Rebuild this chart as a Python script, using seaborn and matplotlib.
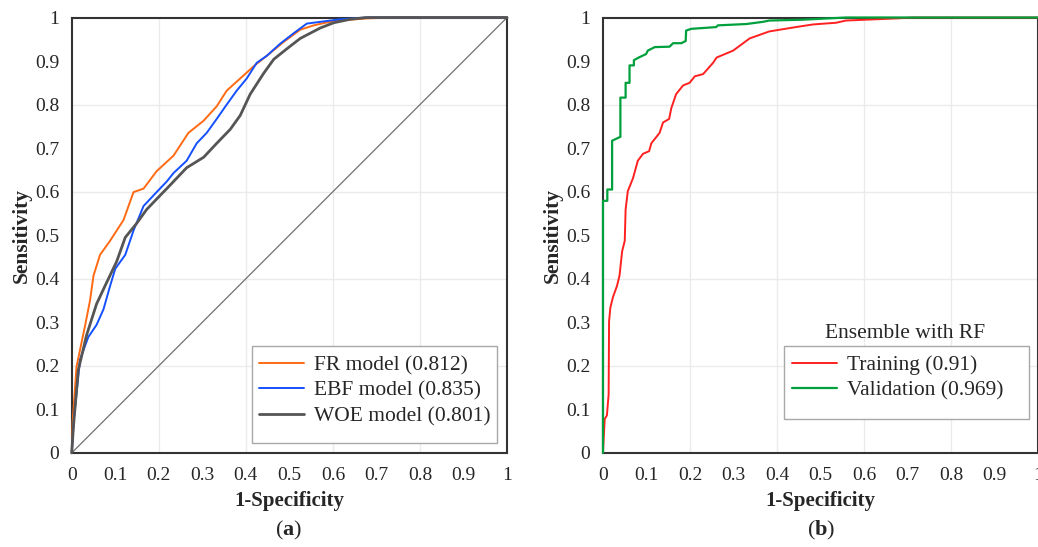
import numpy as np
import pandas as pd
import matplotlib
matplotlib.use("Agg")
import matplotlib.pyplot as plt
from matplotlib.patches import Rectangle
import seaborn as sns

# ROC curve points (x = 1-specificity, y = sensitivity)
fr_x = [0, 0.002, 0.011, 0.031, 0.042, 0.05, 0.065, 0.088, 0.119, 0.142, 0.165, 0.195, 0.234, 0.268,
        0.303, 0.333, 0.356, 0.387, 0.418, 0.448, 0.487, 0.525, 0.556, 0.601, 0.678, 0.755, 1.0]
fr_y = [0, 0.070, 0.198, 0.294, 0.350, 0.407, 0.455, 0.487, 0.535, 0.599, 0.607, 0.647, 0.683, 0.735,
        0.763, 0.796, 0.832, 0.860, 0.888, 0.912, 0.944, 0.972, 0.982, 0.992, 0.998, 1.0, 1.0]

ebf_x = [0, 0.005, 0.019, 0.038, 0.057, 0.073, 0.088, 0.1, 0.123, 0.142, 0.165, 0.195, 0.218, 0.234,
         0.264, 0.287, 0.310, 0.333, 0.356, 0.379, 0.402, 0.425, 0.448, 0.479, 0.51, 0.540, 0.586,
         0.617, 0.678, 1.0]
ebf_y = [0, 0.078, 0.214, 0.266, 0.294, 0.330, 0.383, 0.423, 0.455, 0.511, 0.567, 0.599, 0.623, 0.643,
         0.671, 0.711, 0.735, 0.767, 0.800, 0.832, 0.860, 0.896, 0.912, 0.940, 0.964, 0.986, 0.992,
         0.996, 1.0, 1.0]

woe_x = [0, 0.004, 0.015, 0.034, 0.057, 0.080, 0.103, 0.123, 0.149, 0.172, 0.195, 0.226, 0.264, 0.303,
         0.333, 0.364, 0.387, 0.410, 0.441, 0.464, 0.494, 0.525, 0.571, 0.602, 0.640, 0.678, 1.0]
woe_y = [0, 0.062, 0.190, 0.270, 0.342, 0.391, 0.439, 0.495, 0.527, 0.559, 0.583, 0.615, 0.655, 0.679,
         0.711, 0.743, 0.775, 0.824, 0.872, 0.904, 0.928, 0.952, 0.976, 0.988, 0.996, 1.0, 1.0]

val_x = [0, 0, 0.01, 0.01, 0.021, 0.021, 0.040, 0.040, 0.052, 0.052, 0.061, 0.061, 0.071, 0.071, 0.084,
         0.099, 0.103, 0.111, 0.119, 0.153, 0.161, 0.180, 0.190, 0.191, 0.203, 0.260, 0.264, 0.329,
         0.367, 0.382, 0.459, 0.558, 1.0]
val_y = [0, 0.579, 0.579, 0.605, 0.605, 0.717, 0.726, 0.816, 0.816, 0.850, 0.850, 0.890, 0.890, 0.902,
         0.909, 0.916, 0.924, 0.928, 0.932, 0.933, 0.941, 0.941, 0.946, 0.970, 0.974, 0.978, 0.982,
         0.985, 0.990, 0.993, 0.995, 1.0, 1.0]

train_x = [0, 0.004, 0.009, 0.013, 0.014, 0.017, 0.023, 0.032, 0.038, 0.044, 0.050, 0.052, 0.057, 0.069,
           0.080, 0.092, 0.106, 0.111, 0.130, 0.138, 0.152, 0.157, 0.168, 0.184, 0.199, 0.211, 0.230,
           0.253, 0.261, 0.299, 0.337, 0.382, 0.443, 0.482, 0.536, 0.558, 0.605, 0.675, 0.713, 1.0]
train_y = [0, 0.078, 0.086, 0.134, 0.302, 0.334, 0.358, 0.383, 0.407, 0.463, 0.487, 0.559, 0.601, 0.631,
           0.671, 0.687, 0.693, 0.711, 0.735, 0.759, 0.767, 0.792, 0.824, 0.844, 0.850, 0.865, 0.870,
           0.896, 0.908, 0.924, 0.952, 0.968, 0.978, 0.984, 0.988, 0.993, 0.995, 0.998, 1.0, 1.0]

ticks = np.round(np.arange(0, 1.01, 0.1), 1)
tick_labels = ["0", "0.1", "0.2", "0.3", "0.4", "0.5", "0.6", "0.7", "0.8", "0.9", "1"]

sns.set_style("white")
plt.rcParams['font.family'] = ['Liberation Serif', 'DejaVu Serif']
plt.rcParams['mathtext.fontset'] = 'custom'
plt.rcParams['mathtext.rm'] = 'Liberation Serif'
plt.rcParams['mathtext.bf'] = 'Liberation Serif:bold'

fig = plt.figure(figsize=(10.38, 5.47), dpi=100)
ax1 = fig.add_axes([0.0691, 0.172, 0.4194, 0.796])
ax2 = fig.add_axes([0.5809, 0.172, 0.4194, 0.796])


def draw(ax, x, y, color, label, lw=1.4):
    d = pd.DataFrame({"x": x, "y": y})
    sns.lineplot(data=d, x="x", y="y", ax=ax, color=color, lw=lw, label=label,
                 sort=False, estimator=None, zorder=3, clip_on=False)


def style(ax):
    ax.set_xlim(0, 1)
    ax.set_ylim(0, 1)
    ax.set_xticks(ticks)
    ax.set_yticks(ticks)
    ax.set_xticklabels(tick_labels, fontsize=14)
    ax.set_yticklabels(tick_labels, fontsize=14)
    ax.tick_params(direction='out', length=3, width=1, color='#333333')
    ax.tick_params(axis='x', pad=7)
    ax.tick_params(axis='y', pad=6)
    for g in [0.2, 0.4, 0.6, 0.8]:
        ax.axvline(g, color='#ebebeb', lw=1, zorder=0)
        ax.axhline(g, color='#ebebeb', lw=1, zorder=0)
    for s in ax.spines.values():
        s.set_visible(True)
        s.set_color('#333333')
        s.set_linewidth(1.5)
    ax.set_xlabel('1-Specificity', fontsize=15, fontweight='bold', labelpad=5)
    ax.set_ylabel('Sensitivity', fontsize=15.5, fontweight='bold', labelpad=2.5)


def legend_box(ax, x0, y0, x1, y1, hx, hy):
    ax.add_patch(Rectangle((x0, y0), x1 - x0, y1 - y0, transform=ax.transAxes,
                           facecolor='white', edgecolor='#a8a8a8', lw=1, zorder=4))
    leg = ax.legend(loc='center left', bbox_to_anchor=(hx, hy), borderaxespad=0, borderpad=0,
                    fontsize=15.5, frameon=False, handlelength=2.1, handletextpad=0.45,
                    labelspacing=0.24)
    leg.set_zorder(5)


ax1.plot([0, 1], [0, 1], color='#707070', lw=0.9, zorder=1)
draw(ax1, fr_x, fr_y, '#ff6a13', 'FR model (0.812)')
draw(ax1, ebf_x, ebf_y, '#1450ff', 'EBF model (0.835)')
draw(ax1, woe_x, woe_y, '#555555', 'WOE model (0.801)', lw=2.0)
style(ax1)
legend_box(ax1, 0.414, 0.022, 0.977, 0.245, 0.430, 0.1425)

draw(ax2, train_x, train_y, '#ff2020', 'Training (0.91)')
draw(ax2, val_x, val_y, '#00a03c', 'Validation (0.969)', lw=1.6)
style(ax2)
legend_box(ax2, 0.4165, 0.078, 0.9786, 0.245, 0.4335, 0.172)
ax2.text(0.6945, 0.2745, 'Ensemble with RF', transform=ax2.transAxes, fontsize=15.5,
         ha='center', va='center')

fig.text(0.278, 0.031, r'($\mathbf{a}$)', fontsize=16, ha='center', va='center')
fig.text(0.791, 0.031, r'($\mathbf{b}$)', fontsize=16, ha='center', va='center')

fig.savefig('out.png', dpi=100)
